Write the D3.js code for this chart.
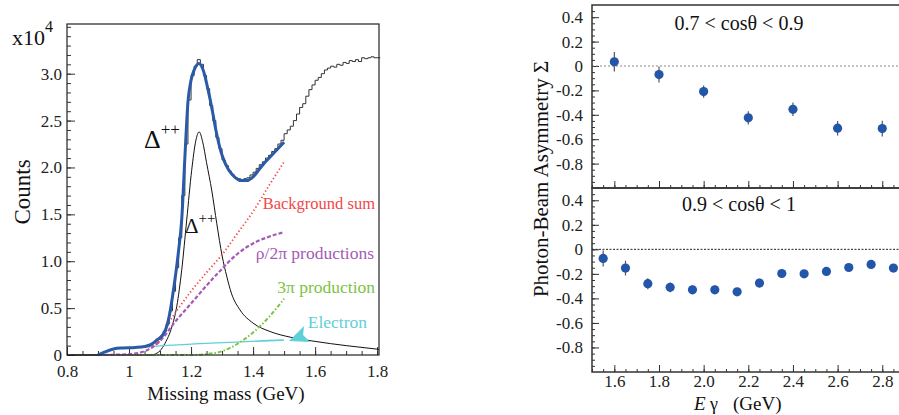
<!DOCTYPE html>
<html>
<head>
<meta charset="utf-8">
<script src="https://cdn.jsdelivr.net/npm/d3@7"></script>
<style>
  body { margin: 0; background: #fff; }
  svg { display: block; }
  text { font-family: "Liberation Serif", "Times New Roman", serif; }
  .tick line { stroke: #333; }
  .domain { display: none; }
</style>
</head>
<body>
<div id="chart"></div>
<script>
// ---- left panel: missing mass spectrum (counts x10^4) ----
var histStart = 0.80, histWidth = 0.01;
var histCounts = [
  0, 0, 0, 0, 0, 0, 0, 0, 0, 0,
  0.01, 0.02, 0.035, 0.05, 0.06, 0.07, 0.075, 0.075, 0.08, 0.08,
  0.08, 0.08, 0.085, 0.085, 0.09, 0.095, 0.10, 0.12, 0.14, 0.17,
  0.20, 0.25, 0.33, 0.47, 0.68, 0.93, 1.25, 1.70, 2.25, 2.72,
  2.98, 3.08, 3.15, 3.10, 2.98, 2.84, 2.66, 2.50, 2.32, 2.20,
  2.08, 2.02, 1.96, 1.92, 1.89, 1.88, 1.87, 1.88, 1.89, 1.92,
  1.95, 1.99, 2.03, 2.06, 2.10, 2.13, 2.17, 2.20, 2.25, 2.29,
  2.36, 2.40, 2.44, 2.50, 2.57, 2.64, 2.68, 2.76, 2.83, 2.88,
  2.93, 2.96, 3.00, 3.04, 3.06, 3.08, 3.07, 3.10, 3.09, 3.12,
  3.11, 3.14, 3.13, 3.15, 3.13, 3.17, 3.16, 3.17, 3.18, 3.17,
  3.17
];

var fitMass = [0.90, 0.92, 0.95, 0.98, 1.02, 1.05, 1.07, 1.09, 1.11, 1.12, 1.13, 1.14, 1.15, 1.16, 1.17, 1.18, 1.19, 1.20, 1.21, 1.225, 1.24, 1.25, 1.26, 1.27, 1.28, 1.29, 1.30, 1.32, 1.34, 1.36, 1.38, 1.40, 1.42, 1.44, 1.46, 1.48, 1.50];
var fitCounts = [0.0, 0.03, 0.065, 0.075, 0.08, 0.09, 0.11, 0.16, 0.22, 0.29, 0.42, 0.62, 0.85, 1.12, 1.45, 2.1, 2.7, 2.93, 3.04, 3.11, 3.03, 2.9, 2.75, 2.58, 2.4, 2.25, 2.13, 1.98, 1.9, 1.86, 1.86, 1.9, 1.98, 2.06, 2.13, 2.2, 2.27];

var deltaMass = [0.80, 1.07, 1.09, 1.10, 1.116, 1.138, 1.154, 1.17, 1.186, 1.202, 1.215, 1.226, 1.237, 1.25, 1.267, 1.283, 1.30, 1.315, 1.33, 1.358, 1.40, 1.455, 1.52, 1.60, 1.70, 1.806];
var deltaCounts = [0, 0.0, 0.02, 0.045, 0.125, 0.30, 0.52, 0.91, 1.44, 1.97, 2.28, 2.38, 2.28, 2.05, 1.75, 1.40, 1.06, 0.84, 0.66, 0.48, 0.34, 0.25, 0.19, 0.145, 0.10, 0.06];

var bgMass = [0.90, 0.96, 1.05, 1.09, 1.11, 1.13, 1.16, 1.20, 1.25, 1.30, 1.35, 1.40, 1.45, 1.50];
var bgCounts = [0.0, 0.07, 0.085, 0.12, 0.21, 0.35, 0.5, 0.68, 0.88, 1.07, 1.3, 1.53, 1.8, 2.06];

var rhoMass = [0.92, 1.00, 1.05, 1.10, 1.15, 1.20, 1.25, 1.30, 1.35, 1.40, 1.45, 1.50];
var rhoCounts = [0.0, 0.01, 0.04, 0.15, 0.36, 0.55, 0.74, 0.92, 1.08, 1.19, 1.26, 1.31];

var threePiMass = [0.95, 1.20, 1.25, 1.30, 1.35, 1.40, 1.45, 1.50];
var threePiCounts = [0.0, 0.0, 0.01, 0.04, 0.12, 0.24, 0.40, 0.60];

var electronMass = [0.92, 0.96, 1.00, 1.50];
var electronCounts = [0.03, 0.065, 0.075, 0.16];

// ---- right panels: photon-beam asymmetry ----
var egTop = [1.6, 1.8, 2.0, 2.2, 2.4, 2.6, 2.8];
var sigmaTop = [0.035, -0.07, -0.21, -0.425, -0.355, -0.51, -0.513];
var errTop = [0.08, 0.065, 0.05, 0.055, 0.055, 0.06, 0.065];

var egBot = [1.55, 1.65, 1.75, 1.85, 1.95, 2.05, 2.15, 2.25, 2.35, 2.45, 2.55, 2.65, 2.75, 2.85];
var sigmaBot = [-0.074, -0.153, -0.28, -0.31, -0.33, -0.33, -0.346, -0.275, -0.197, -0.2, -0.18, -0.148, -0.123, -0.153];
var errBot = [0.065, 0.06, 0.045, 0.04, 0.035, 0.035, 0.03, 0.035, 0.03, 0.03, 0.03, 0.03, 0.03, 0.03];

var leftXTicks = [0.8, 1.0, 1.2, 1.4, 1.6, 1.8];
var leftYTicks = [0, 0.5, 1.0, 1.5, 2.0, 2.5, 3.0];
var rightXTicks = [1.6, 1.8, 2.0, 2.2, 2.4, 2.6, 2.8];
var rightYTicks = [-0.8, -0.6, -0.4, -0.2, 0, 0.2, 0.4];

var W = 899, H = 415;
var SERIF = '"Liberation Serif", "Times New Roman", serif';
var svg = d3.select("#chart").append("svg").attr("width", W).attr("height", H);

function styleAxis(g) {
  g.attr("font-family", SERIF).attr("font-size", 17);
  g.selectAll("text").style("font-family", SERIF).style("font-size", "17px").attr("fill", "#222");
}

function minorTicks(lo, hi, step) {
  var out = [];
  for (var v = lo; v <= hi + 1e-9; v += step) out.push(+v.toFixed(4));
  return out;
}

// ===== left panel =====
var x = d3.scaleLinear().domain([0.8, 1.806]).range([67, 379]);
var y = d3.scaleLinear().domain([0, 3.53]).range([355, 24]);

var gl = svg.append("g");

gl.append("g").attr("transform", "translate(0,355)")
  .call(d3.axisBottom(x).tickValues(minorTicks(0.8, 1.8, 0.05)).tickSize(-4).tickFormat(""));
gl.append("g").attr("transform", "translate(0,355)")
  .call(d3.axisBottom(x).tickValues(leftXTicks).tickSize(-8).tickPadding(10)
    .tickFormat(d => d === 1 ? "1" : d.toFixed(1)))
  .call(styleAxis);
gl.append("g").attr("transform", "translate(67,0)")
  .call(d3.axisLeft(y).tickValues(minorTicks(0, 3.5, 0.1)).tickSize(-4).tickFormat(""));
gl.append("g").attr("transform", "translate(67,0)")
  .call(d3.axisLeft(y).tickValues(leftYTicks).tickSize(-8).tickPadding(5)
    .tickFormat(d => d === 0 ? "0" : d.toFixed(1)))
  .call(styleAxis);

var line = d3.line().x(d => x(d[0])).y(d => y(d[1]));
var smooth = d3.line().x(d => x(d[0])).y(d => y(d[1])).curve(d3.curveMonotoneX);

// histogram as steps
var histPts = histCounts.map((c, i) => [histStart + i * histWidth, c]);
histPts.push([histStart + histCounts.length * histWidth, histCounts[histCounts.length - 1]]);
gl.append("path").datum(histPts)
  .attr("d", line.curve(d3.curveStepAfter))
  .attr("fill", "none").attr("stroke", "#333").attr("stroke-width", 1);

function zip(a, b) { return a.map((v, i) => [v, b[i]]); }

gl.append("path").datum(zip(deltaMass, deltaCounts)).attr("d", smooth)
  .attr("fill", "none").attr("stroke", "#111").attr("stroke-width", 1);
gl.append("path").datum(zip(electronMass, electronCounts)).attr("d", smooth)
  .attr("fill", "none").attr("stroke", "#5fcfd8").attr("stroke-width", 1.3);
gl.append("path").datum(zip(threePiMass, threePiCounts)).attr("d", smooth)
  .attr("fill", "none").attr("stroke", "#7cc444").attr("stroke-width", 2)
  .attr("stroke-dasharray", "4,2,1.5,2");
gl.append("path").datum(zip(rhoMass, rhoCounts)).attr("d", smooth)
  .attr("fill", "none").attr("stroke", "#a45bb5").attr("stroke-width", 2.2)
  .attr("stroke-dasharray", "4,2");
gl.append("path").datum(zip(bgMass, bgCounts)).attr("d", smooth)
  .attr("fill", "none").attr("stroke", "#f04848").attr("stroke-width", 1.8)
  .attr("stroke-dasharray", "1.3,2.4");
gl.append("path").datum(zip(fitMass, fitCounts)).attr("d", smooth)
  .attr("fill", "none").attr("stroke", "#2a5aa8").attr("stroke-width", 3);

// electron arrow
var tipX = x(1.516), tipY = y(0.15);
gl.append("path")
  .attr("d", "M" + tipX + "," + tipY + "L" + (tipX + 15) + "," + (tipY - 15) +
    "L" + (tipX + 14) + "," + (tipY - 6) + "L" + (tipX + 21) + "," + (tipY + 1) + "Z")
  .attr("fill", "#5fcfd8");

gl.append("rect").attr("x", 67).attr("y", 24).attr("width", 312).attr("height", 331)
  .attr("fill", "none").attr("stroke", "#222").attr("stroke-width", 1.2);

// labels
var t = gl.append("text").attr("x", 12).attr("y", 45).attr("font-size", 22).attr("fill", "#111");
t.append("tspan").text("x10");
t.append("tspan").attr("dy", -13).attr("font-size", 16).text("4");

gl.append("text").attr("transform", "translate(30,192) rotate(-90)")
  .attr("text-anchor", "middle").attr("font-size", 23).attr("fill", "#111").text("Counts");
gl.append("text").attr("x", 226).attr("y", 400).attr("text-anchor", "middle")
  .attr("font-size", 19).attr("fill", "#111").text("Missing mass (GeV)");

var d1 = gl.append("text").attr("x", 144).attr("y", 148).attr("fill", "#111");
d1.append("tspan").attr("font-size", 26).text("Δ");
d1.append("tspan").attr("font-size", 17).attr("dy", -13).text("++");
var d2 = gl.append("text").attr("x", 185).attr("y", 233).attr("fill", "#111");
d2.append("tspan").attr("font-size", 21).text("Δ");
d2.append("tspan").attr("font-size", 15).attr("dy", -10).text("++");

gl.append("text").attr("x", 375).attr("y", 209).attr("text-anchor", "end")
  .attr("font-size", 16.5).attr("fill", "#f04848").text("Background sum");
gl.append("text").attr("x", 374).attr("y", 259).attr("text-anchor", "end")
  .attr("font-size", 17.5).attr("fill", "#a45bb5").text("ρ/2π productions");
gl.append("text").attr("x", 375).attr("y", 293).attr("text-anchor", "end")
  .attr("font-size", 17.5).attr("fill", "#7cc444").text("3π production");
gl.append("text").attr("x", 367).attr("y", 328).attr("text-anchor", "end")
  .attr("font-size", 17.5).attr("fill", "#5fcfd8").text("Electron");

// ===== right panels =====
var xr = d3.scaleLinear().domain([1.5, 2.9]).range([592, 904.6]);
var panels = [
  { eg: egTop, s: sigmaTop, e: errTop, y0: 5, y1: 188, title: "0.7 < cosθ < 0.9", ty: 30, zero: "#888", dash: "2,2", labels: false },
  { eg: egBot, s: sigmaBot, e: errBot, y0: 188, y1: 372, title: "0.9 < cosθ < 1", ty: 211, zero: "#222", dash: "2,1.5", labels: true }
];

panels.forEach(function (p) {
  var yr = d3.scaleLinear().domain([-1, 0.5]).range([p.y1, p.y0]);
  var g = svg.append("g");

  g.append("g").attr("transform", "translate(592,0)")
    .call(d3.axisLeft(yr).tickValues(minorTicks(-0.95, 0.45, 0.05)).tickSize(-3).tickFormat(""));
  g.append("g").attr("transform", "translate(592,0)")
    .call(d3.axisLeft(yr).tickValues(rightYTicks).tickSize(-7).tickPadding(9)
      .tickFormat(d => d === 0 ? "0" : d.toFixed(1)))
    .call(styleAxis);
  g.append("g").attr("transform", "translate(0," + p.y1 + ")")
    .call(d3.axisBottom(xr).tickValues(minorTicks(1.5, 2.85, 0.05)).tickSize(-3).tickFormat(""));
  g.append("g").attr("transform", "translate(0," + p.y1 + ")")
    .call(d3.axisBottom(xr).tickValues(rightXTicks).tickSize(-7).tickPadding(3)
      .tickFormat(p.labels ? (d => d.toFixed(1)) : ""))
    .call(styleAxis);

  g.append("line").attr("x1", 592).attr("x2", 904).attr("y1", yr(0)).attr("y2", yr(0))
    .attr("stroke", p.zero).attr("stroke-width", 1).attr("stroke-dasharray", p.dash);

  g.selectAll(".err").data(p.eg).enter().append("line")
    .attr("x1", d => xr(d)).attr("x2", d => xr(d))
    .attr("y1", (d, i) => yr(p.s[i] - p.e[i])).attr("y2", (d, i) => yr(p.s[i] + p.e[i]))
    .attr("stroke", "#555").attr("stroke-width", 1.2);
  g.selectAll(".pt").data(p.eg).enter().append("circle")
    .attr("cx", d => xr(d)).attr("cy", (d, i) => yr(p.s[i])).attr("r", 4.6)
    .attr("fill", "#2356a8");

  g.append("text").attr("x", 739).attr("y", p.ty).attr("text-anchor", "middle")
    .attr("font-size", 20).attr("fill", "#111").text(p.title);

  g.append("rect").attr("x", 592).attr("y", p.y0).attr("width", 313).attr("height", p.y1 - p.y0)
    .attr("fill", "none").attr("stroke", "#333").attr("stroke-width", 1.5);
});

svg.append("text").attr("transform", "translate(548,179) rotate(-90)")
  .attr("text-anchor", "middle").attr("font-size", 21).attr("fill", "#111")
  .text("Photon-Beam Asymmetry Σ");
var xl = svg.append("text").attr("y", 410).attr("font-size", 19).attr("fill", "#111");
xl.append("tspan").attr("x", 694).attr("font-style", "italic").text("E");
xl.append("tspan").attr("x", 710).attr("font-size", 18).text("γ");
xl.append("tspan").attr("x", 733).attr("font-size", 19).text("(GeV)");
</script>
</body>
</html>
